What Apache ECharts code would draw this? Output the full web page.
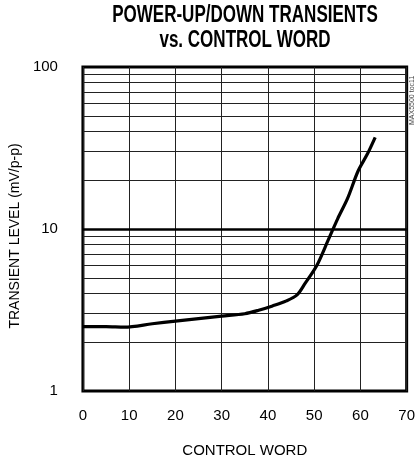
<!DOCTYPE html>
<html><head><meta charset="utf-8">
<script src="https://cdn.jsdelivr.net/npm/echarts@6/dist/echarts.min.js"></script>
<style>html,body{margin:0;padding:0;background:#fff}#c{width:418px;height:463px}</style>
</head><body><div id="c"></div>
<script>
const controlWord = [0, 5, 9, 15, 20, 25, 30, 35, 38, 41, 44, 46.3, 48, 50.6, 53, 55.1, 57.2, 59.5, 61.5, 63.2];
const transient   = [2.5, 2.5, 2.48, 2.6, 2.7, 2.8, 2.9, 3.0, 3.15, 3.35, 3.6, 3.92, 4.6, 5.98, 8.5, 11.6, 15.4, 22.8, 29, 36.8];
const xTicks = [0, 10, 20, 30, 40, 50, 60, 70];
const yMinorLines = [2, 3, 4, 5, 6, 7, 8, 9, 20, 30, 40, 50, 60, 70, 80, 90];
const yMajorLines = [10];
const titleLines = ['POWER-UP/DOWN TRANSIENTS', 'vs. CONTROL WORD'];

const font = '"Liberation Sans",Arial,sans-serif';
const chart = echarts.init(document.getElementById('c'), null, {renderer: 'canvas'});
chart.setOption({
  animation: false,
  backgroundColor: '#fff',
  graphic: [
    {type: 'text', x: 245, y: 4, scaleX: 0.74,
     style: {text: titleLines[0], fontFamily: font, fontWeight: 'bold', fontSize: 23, fill: '#000', align: 'center', verticalAlign: 'top'}},
    {type: 'text', x: 245, y: 29, scaleX: 0.74,
     style: {text: titleLines[1], fontFamily: font, fontWeight: 'bold', fontSize: 23, fill: '#000', align: 'center', verticalAlign: 'top'}},
    {type: 'text', x: 409, y: 125, rotation: Math.PI / 2,
     style: {text: 'MAX5500 toc11', fontSize: 7, fill: '#444', fontFamily: font, align: 'left', verticalAlign: 'top'}}
  ],
  grid: {left: 81, right: 9, top: 67, bottom: 69, show: true, borderColor: '#000', borderWidth: 3, backgroundColor: 'transparent'},
  xAxis: {
    type: 'value', min: 0, max: 70, interval: 10,
    name: 'CONTROL WORD', nameLocation: 'middle', nameGap: 52,
    nameTextStyle: {fontFamily: font, fontSize: 15, color: '#000'},
    axisLine: {show: false}, axisTick: {show: false},
    axisLabel: {fontFamily: font, fontSize: 15, color: '#000', margin: 17},
    splitLine: {show: true, lineStyle: {color: '#222', width: 1}}
  },
  yAxis: {
    type: 'log', logBase: 10, min: 1, max: 100,
    name: 'TRANSIENT LEVEL (mV/p-p)', nameLocation: 'middle', nameGap: 58,
    nameTextStyle: {fontFamily: font, fontSize: 14, color: '#000', padding: [0, 14, 0, 0]},
    axisLine: {show: false}, axisTick: {show: false},
    axisLabel: {fontFamily: font, fontSize: 15, color: '#000', margin: 25},
    splitLine: {show: false}
  },
  series: [{
    type: 'line', data: controlWord.map((x, i) => [x, transient[i]]),
    smooth: 0.3, showSymbol: false,
    lineStyle: {color: '#000', width: 3.2},
    markLine: {
      silent: true, symbol: 'none', label: {show: false},
      data: yMinorLines.map(v => ({yAxis: v, lineStyle: {color: '#222', width: 1, type: 'solid'}}))
        .concat(yMajorLines.map(v => ({yAxis: v, lineStyle: {color: '#000', width: 2.5, type: 'solid'}})))
    },
    z: 5
  }]
});
</script></body></html>
